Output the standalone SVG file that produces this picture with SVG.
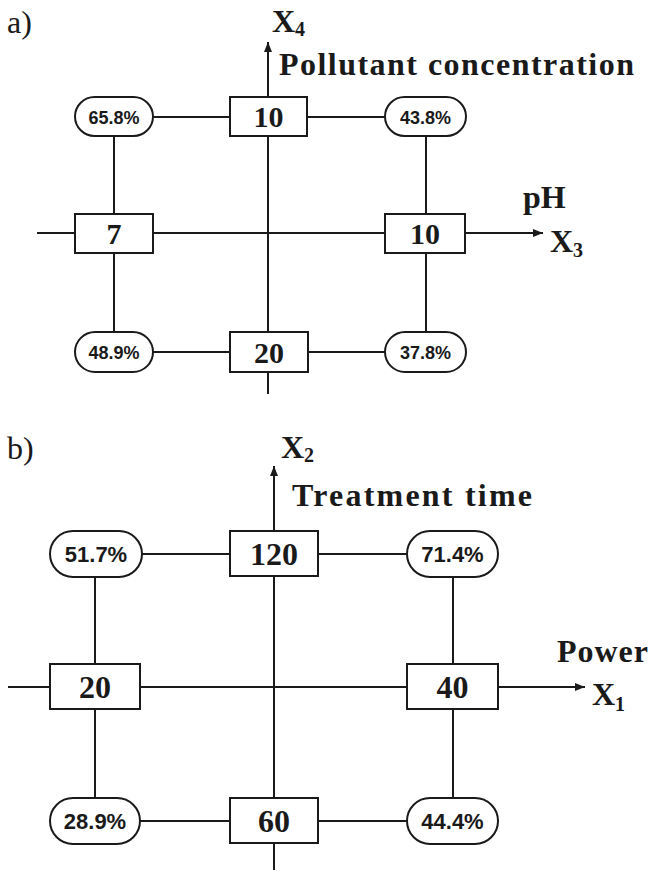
<svg xmlns="http://www.w3.org/2000/svg" width="654" height="872" viewBox="0 0 654 872">
<style>
.ln{stroke:#1a1a1a;stroke-width:2;fill:none}
.box{fill:#fff;stroke:#1a1a1a;stroke-width:2}
.num{font-family:"Liberation Serif",serif;font-weight:bold;font-size:30px;fill:#1a1a1a;text-anchor:middle}
.numb{font-family:"Liberation Serif",serif;font-weight:bold;font-size:32px;fill:#1a1a1a;text-anchor:middle}
.pa{font-family:"Liberation Sans",sans-serif;font-weight:bold;font-size:18px;fill:#1a1a1a;text-anchor:middle}
.pb{font-family:"Liberation Sans",sans-serif;font-weight:bold;font-size:22px;fill:#1a1a1a;text-anchor:middle}
.lab{font-family:"Liberation Serif",serif;font-weight:bold;font-size:32px;fill:#1a1a1a}
.sub{font-family:"Liberation Serif",serif;font-weight:bold;font-size:20px;fill:#1a1a1a}
.tag{font-family:"Liberation Serif",serif;font-size:32px;fill:#1a1a1a}
</style>
<defs>
<marker id="arr" viewBox="0 0 10 8" refX="10" refY="4" markerWidth="10" markerHeight="8" markerUnits="userSpaceOnUse" orient="auto">
<path d="M0,0 L10,4 L0,8 Z" fill="#1a1a1a"/>
</marker>
</defs>
<rect width="654" height="872" fill="#fff"/>

<text class="tag" x="7" y="33">a)</text>
<text class="tag" x="7" y="459">b)</text>

<g id="connectors">
<!-- panel a -->
<line class="ln" x1="268" y1="394" x2="268" y2="42" marker-end="url(#arr)"/>
<line class="ln" x1="37" y1="233" x2="543" y2="233" marker-end="url(#arr)"/>
<line class="ln" x1="114" y1="117" x2="426" y2="117"/>
<line class="ln" x1="114" y1="352" x2="426" y2="352"/>
<line class="ln" x1="114" y1="117" x2="114" y2="352"/>
<line class="ln" x1="426" y1="117" x2="426" y2="352"/>
<!-- panel b -->
<line class="ln" x1="274" y1="870" x2="274" y2="466" marker-end="url(#arr)"/>
<line class="ln" x1="8" y1="687" x2="585" y2="687" marker-end="url(#arr)"/>
<line class="ln" x1="95" y1="554" x2="453" y2="554"/>
<line class="ln" x1="95" y1="821" x2="453" y2="821"/>
<line class="ln" x1="95" y1="554" x2="95" y2="821"/>
<line class="ln" x1="453" y1="554" x2="453" y2="821"/>
</g>

<g id="axis-labels">
<text class="lab" x="272" y="32">X<tspan class="sub" dy="4">4</tspan></text>
<text class="lab" x="279" y="75" textLength="355" lengthAdjust="spacing">Pollutant concentration</text>
<text class="lab" x="523" y="208">pH</text>
<text class="lab" x="550" y="252">X<tspan class="sub" dy="5">3</tspan></text>
<text class="lab" x="281" y="458">X<tspan class="sub" dy="4">2</tspan></text>
<text class="lab" x="292" y="506" textLength="240" lengthAdjust="spacing">Treatment time</text>
<text class="lab" x="557" y="662" textLength="91" lengthAdjust="spacing">Power</text>
<text class="lab" x="592" y="705">X<tspan class="sub" dy="6">1</tspan></text>
</g>

<!-- panel a nodes -->
<g id="a-top"><rect class="box" x="230" y="97" width="77" height="39"/><text class="num" x="268.5" y="127">10</text></g>
<g id="a-p658"><rect class="box" x="75" y="97" width="78" height="39" rx="19.5"/><text class="pa" x="114" y="123.5">65.8%</text></g>
<g id="a-p438"><rect class="box" x="385" y="97" width="81" height="39" rx="19.5"/><text class="pa" x="425.5" y="123.5">43.8%</text></g>
<g id="a-left"><rect class="box" x="75" y="214" width="78" height="39"/><text class="num" x="114" y="244">7</text></g>
<g id="a-right"><rect class="box" x="385" y="214" width="80" height="39"/><text class="num" x="425" y="244">10</text></g>
<g id="a-p489"><rect class="box" x="75" y="332" width="78" height="40" rx="20"/><text class="pa" x="114" y="358.5">48.9%</text></g>
<g id="a-bottom"><rect class="box" x="230" y="332" width="78" height="40"/><text class="num" x="269" y="362.5">20</text></g>
<g id="a-p378"><rect class="box" x="385" y="332" width="81" height="40" rx="20"/><text class="pa" x="425.5" y="358.5">37.8%</text></g>

<!-- panel b nodes -->
<g id="b-top"><rect class="box" x="230" y="531" width="88" height="45"/><text class="numb" x="274" y="565">120</text></g>
<g id="b-p517"><rect class="box" x="50" y="531" width="92" height="46" rx="23"/><text class="pb" x="96" y="562">51.7%</text></g>
<g id="b-p714"><rect class="box" x="407" y="531" width="91" height="46" rx="23"/><text class="pb" x="452.5" y="562">71.4%</text></g>
<g id="b-left"><rect class="box" x="50" y="664" width="90" height="45"/><text class="numb" x="95" y="698">20</text></g>
<g id="b-right"><rect class="box" x="407" y="664" width="91" height="45"/><text class="numb" x="452.5" y="698">40</text></g>
<g id="b-p289"><rect class="box" x="50" y="798" width="90" height="46" rx="23"/><text class="pb" x="95" y="829">28.9%</text></g>
<g id="b-bottom"><rect class="box" x="230" y="798" width="88" height="45"/><text class="numb" x="274" y="832">60</text></g>
<g id="b-p444"><rect class="box" x="407" y="798" width="91" height="46" rx="23"/><text class="pb" x="452.5" y="829">44.4%</text></g>
</svg>
